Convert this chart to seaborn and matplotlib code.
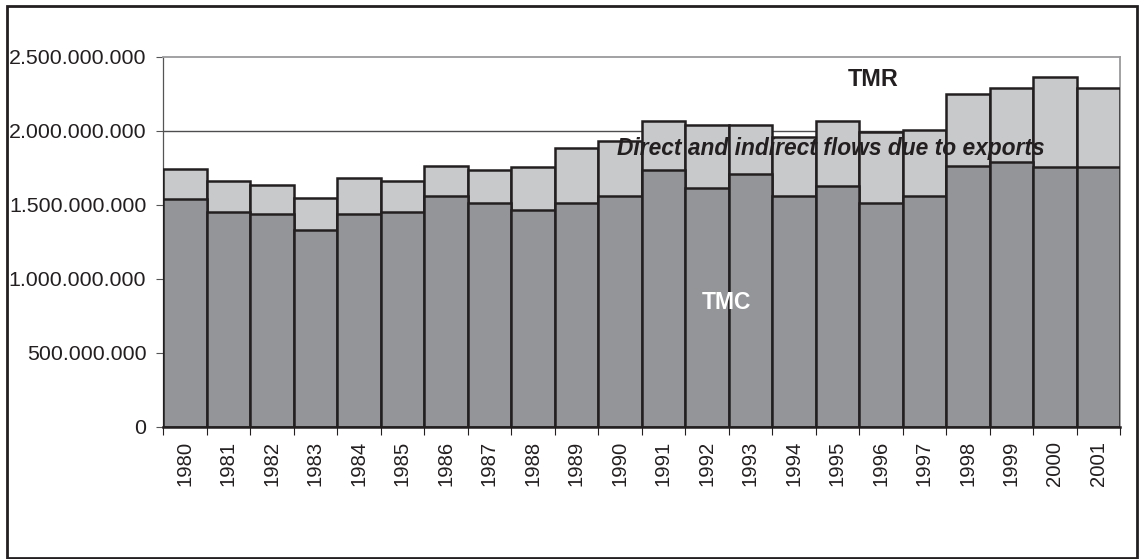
import matplotlib
matplotlib.use("Agg")
import matplotlib.pyplot as plt
import matplotlib.patches as mpatches
from matplotlib.ticker import FuncFormatter, FixedLocator
import seaborn as sns
import pandas as pd

years = [str(y) for y in range(1980, 2002)]
# Total material requirement (TMR) and total material consumption (TMC), tonnes
tmr = [1741e6, 1662e6, 1633e6, 1547e6, 1680e6, 1660e6, 1764e6, 1739e6,
       1755e6, 1887e6, 1935e6, 2070e6, 2039e6, 2039e6, 1962e6, 2070e6,
       1993e6, 2009e6, 2248e6, 2293e6, 2367e6, 2293e6]
tmc = [1543e6, 1451e6, 1437e6, 1331e6, 1437e6, 1453e6, 1561e6, 1514e6,
       1466e6, 1514e6, 1561e6, 1737e6, 1617e6, 1710e6, 1561e6, 1631e6,
       1516e6, 1561e6, 1764e6, 1793e6, 1755e6, 1755e6]

df = pd.DataFrame({"year": years, "TMR": tmr, "TMC": tmc})

sns.set_style("white")
plt.rcParams["font.family"] = ["Liberation Sans", "DejaVu Sans"]

fig = plt.figure(figsize=(11.39, 5.59), dpi=100)
ax = fig.add_axes([163 / 1139, 1 - 427 / 559, (1120 - 163) / 1139, (427 - 57) / 559])

edge = "#231f20"
# Full TMR bars (light part = direct and indirect flows due to exports)
sns.barplot(data=df, x="year", y="TMR", color="#c8c9cb", width=1.0,
            edgecolor=edge, linewidth=1.8, saturation=1, ax=ax, zorder=3)
# TMC part drawn over the lower section
sns.barplot(data=df, x="year", y="TMC", color="#939598", width=1.0,
            edgecolor=edge, linewidth=1.8, saturation=1, ax=ax, zorder=4)

ax.set_xlim(-0.5, len(years) - 0.5)
ax.set_ylim(0, 2.5e9)
ax.set_xlabel("")
ax.set_ylabel("")

ax.yaxis.set_major_locator(FixedLocator([0, 5e8, 1e9, 1.5e9, 2e9, 2.5e9]))
ax.yaxis.set_major_formatter(FuncFormatter(lambda v, p: f"{int(v):,}".replace(",", ".")))
ax.axhline(2e9, color="#4d4d4f", lw=1.0, zorder=1)

ax.set_xticks(range(len(years)))
ax.set_xticklabels(years, rotation=90)
ax.set_xticks([i - 0.5 for i in range(len(years) + 1)], minor=True)
ax.tick_params(axis="x", which="major", length=0, pad=10, labelsize=14.6, colors="#231f20")
ax.tick_params(axis="x", which="minor", length=6, width=0.8, color="#231f20", direction="out", bottom=True)
ax.tick_params(axis="y", which="major", length=5, width=0.8, color="#555555", direction="out",
               left=True, labelsize=15.4, labelcolor="#231f20", pad=7)

for side in ["top", "right"]:
    ax.spines[side].set_color("#9a9a9c")
    ax.spines[side].set_linewidth(1.3)
ax.spines["left"].set_color("#555555")
ax.spines["left"].set_linewidth(0.9)
ax.spines["bottom"].set_color("#231f20")
ax.spines["bottom"].set_linewidth(1.8)
ax.spines["bottom"].set_zorder(6)

ax.text(0.742, 0.938, "TMR", transform=ax.transAxes, ha="center", va="center",
        fontsize=16.8, fontweight="bold", color="#231f20", zorder=7)
ax.text(0.698, 0.754, "Direct and indirect flows due to exports", transform=ax.transAxes,
        ha="center", va="center", fontsize=16.4, fontweight="bold", fontstyle="italic",
        color="#231f20", zorder=7)
ax.text(0.589, 0.336, "TMC", transform=ax.transAxes, ha="center", va="center",
        fontsize=16.5, fontweight="bold", color="white", zorder=7)

# Outer frame around the whole chart
fig.patches.append(mpatches.Rectangle((7 / 1139, 1 - 558 / 559), (1137 - 7) / 1139, (558 - 6) / 559,
                                      transform=fig.transFigure, fill=False,
                                      edgecolor="#231f20", linewidth=2))

fig.savefig("out.png", dpi=100)
